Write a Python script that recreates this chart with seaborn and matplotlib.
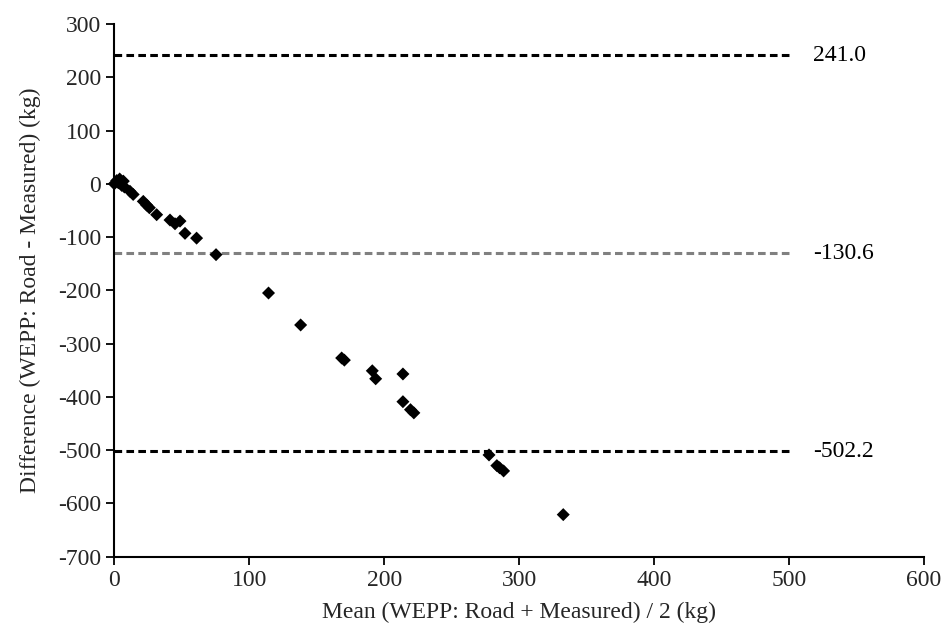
import matplotlib
matplotlib.use("Agg")
import matplotlib.pyplot as plt
import seaborn as sns
import pandas as pd

# Bland-Altman data
mean_vals = [0, 1.8, 3.0, 4.0, 5.5, 6.7, 7.5, 11.6, 14.0, 21.5, 24.0, 26.0, 31.4,
             41.3, 45.0, 48.7, 52.4, 61.0, 75.4, 114.3, 138.1, 168.5, 170.5,
             191.2, 193.7, 213.9, 213.9, 219.5, 222.0, 277.7, 283.5, 285.5, 288.5, 332.7]
diff_vals = [0, 6, 2, 9, -3, 5, -6, -14, -20, -33, -40, -45, -58,
             -68, -75, -70, -93, -102, -133, -205, -265, -327, -331,
             -351, -366, -357, -409, -424, -430, -509, -529, -533, -539, -621]

limit_values = [241.0, -130.6, -502.2]
limit_labels = ["241.0", "-130.6", "-502.2"]
limit_colors = ["black", "#808080", "black"]

x_ticks = [0, 100, 200, 300, 400, 500, 600]
y_ticks = [300, 200, 100, 0, -100, -200, -300, -400, -500, -600, -700]

df = pd.DataFrame({"mean": mean_vals, "diff": diff_vals})

sns.set_style("ticks")
plt.rcParams['font.family'] = ['Liberation Serif', 'DejaVu Serif']
plt.rcParams['font.size'] = 17
plt.rcParams['axes.unicode_minus'] = False

fig = plt.figure(figsize=(9.46, 6.43), dpi=100)
ax = fig.add_axes([0.1208, 0.1342, 0.8559, 0.8285])

for val, lab, col in zip(limit_values, limit_labels, limit_colors):
    ax.plot([0, 500], [val, val], color=col, linestyle=(0, (2.5, 1.4)), linewidth=2.2, zorder=1)
    ax.text(518, val, lab, ha="left", va="center", fontsize=17, color="black")

sns.scatterplot(data=df, x="mean", y="diff", marker="D", s=44, color="black",
                edgecolor="none", ax=ax, zorder=3, clip_on=False)

ax.set_xlim(0, 600)
ax.set_ylim(-700, 300)
ax.set_xticks(x_ticks)
ax.set_yticks(y_ticks)
ax.tick_params(axis="both", direction="out", length=6, width=1.3, labelsize=17, color="black")
for s in ["top", "right"]:
    ax.spines[s].set_visible(False)
for s in ["left", "bottom"]:
    ax.spines[s].set_linewidth(1.5)
    ax.spines[s].set_color("black")

ax.set_xlabel("Mean (WEPP: Road + Measured) / 2 (kg)", fontsize=17)
ax.set_ylabel("Difference (WEPP: Road - Measured) (kg)", fontsize=17)
ax.xaxis.labelpad = 8
ax.yaxis.labelpad = 12

fig.savefig("out.png", dpi=100)
